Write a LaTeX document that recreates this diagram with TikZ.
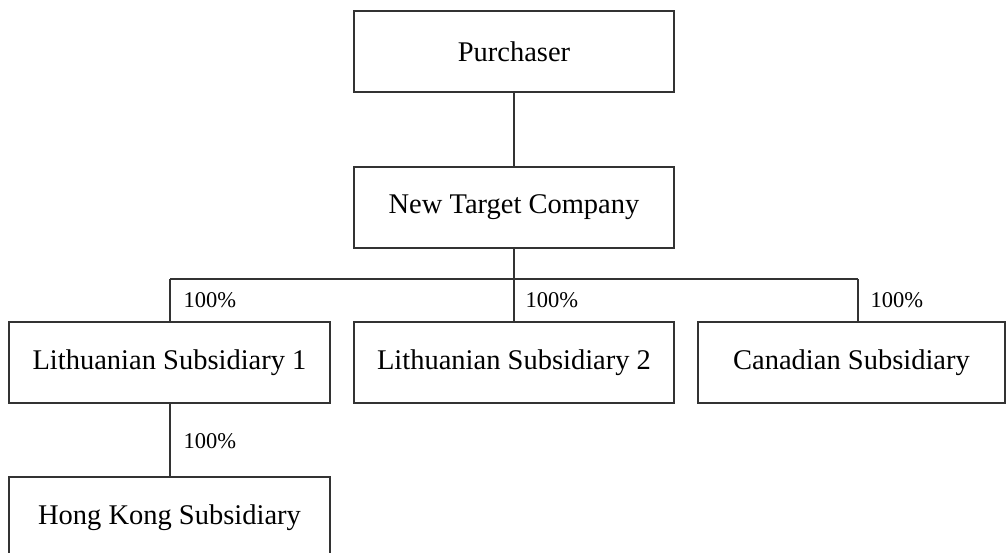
\documentclass[tikz,border=0pt]{standalone}
\usepackage{fontspec}
\setmainfont{Liberation Serif}
\begin{document}
\begin{tikzpicture}[x=1pt,y=-1pt,
  line width=1.3pt,
  entity/.style={draw=black!80, line width=1.3pt, rectangle, minimum height=81pt, inner sep=0pt, font=\fontsize{28.5}{34}\selectfont},
  pct/.style={anchor=west, inner sep=0pt, font=\fontsize{22.5}{27}\selectfont},
  link/.style={draw=black!80, line width=1.3pt}]
\useasboundingbox (0,0) rectangle (1006,552);
\clip (0,0) rectangle (1006,552);
\node[entity, minimum width=320pt] (pur) at (514,51.5) {Purchaser};
\node[entity, minimum width=320pt] (ntc) at (514,207.5) {New Target Company};
\node[entity, minimum width=321pt] (l1) at (169.5,362.5) {Lithuanian Subsidiary 1};
\node[entity, minimum width=320pt] (l2) at (514,362.5) {Lithuanian Subsidiary 2};
\node[entity, minimum width=307pt] (can) at (851.5,362.5) {Canadian Subsidiary};
\node[entity, minimum width=321pt] (hk) at (169.5,517.5) {Hong Kong Subsidiary};
\coordinate (b1) at (170,279);
\coordinate (b3) at (858,279);
\draw[link] (pur.south) -- (ntc.north);
\draw[link] (ntc.south) -- (ntc.south |- b1);
\draw[link] (b1) -- (b3);
\draw[link] (b1) -- (b1 |- l1.north);
\draw[link] (ntc.south |- b1) -- (l2.north);
\draw[link] (b3) -- (b3 |- can.north);
\draw[link] (b1 |- l1.south) -- (b1 |- hk.north);
\node[pct] (p1) at (183,300) {100\%};
\node[pct] (p2) at (525,300) {100\%};
\node[pct] (p3) at (870,300) {100\%};
\node[pct] (p4) at (183,441) {100\%};
\end{tikzpicture}
\end{document}
